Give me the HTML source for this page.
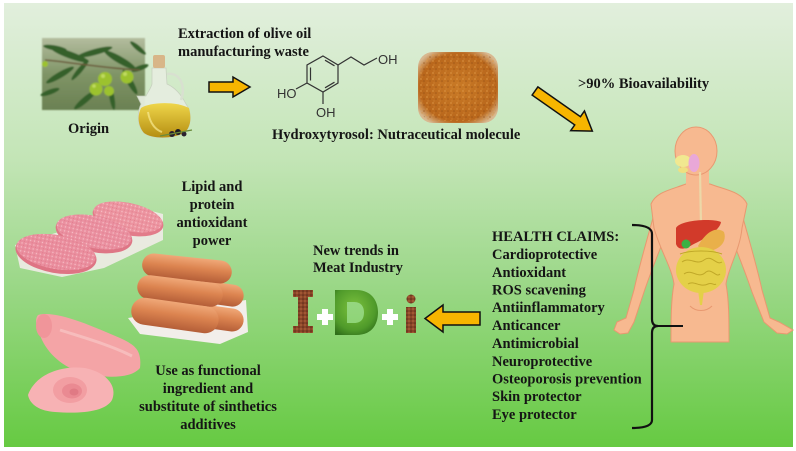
<!DOCTYPE html>
<html>
<head>
<meta charset="utf-8">
<style>
  html,body{margin:0;padding:0;background:#fff;}
  svg{display:block;}
  .t{font-family:"Liberation Serif",serif;font-weight:bold;font-size:14.5px;fill:#151515;}
  .m{font-family:"Liberation Sans",sans-serif;font-size:13px;fill:#333;}
</style>
</head>
<body>
<svg width="796" height="451" viewBox="0 0 796 451" xmlns="http://www.w3.org/2000/svg">
  <defs>
    <linearGradient id="bg" x1="0" y1="0" x2="0" y2="1">
      <stop offset="0" stop-color="#e2efdd"/>
      <stop offset="0.35" stop-color="#c3e5b6"/>
      <stop offset="0.62" stop-color="#9dd88a"/>
      <stop offset="1" stop-color="#66ca42"/>
    </linearGradient>
    <linearGradient id="olbg" x1="0" y1="0" x2="0" y2="1">
      <stop offset="0" stop-color="#b3bc9e"/>
      <stop offset="0.5" stop-color="#7f9466"/>
      <stop offset="1" stop-color="#6a8052"/>
    </linearGradient>
    <radialGradient id="pow" cx="0.5" cy="0.5" r="0.6">
      <stop offset="0" stop-color="#c97a26"/>
      <stop offset="0.8" stop-color="#b9671c"/>
      <stop offset="1" stop-color="#d8b890"/>
    </radialGradient>
    <pattern id="grain" width="6" height="6" patternUnits="userSpaceOnUse">
      <circle cx="1" cy="1" r="0.9" fill="#e09a48" opacity="0.7"/>
      <circle cx="4" cy="3" r="0.8" fill="#8c4a12" opacity="0.6"/>
      <circle cx="2" cy="5" r="0.7" fill="#d68a3a" opacity="0.6"/>
    </pattern>
    <linearGradient id="saus" x1="0" y1="0" x2="0" y2="1">
      <stop offset="0" stop-color="#f0a878"/>
      <stop offset="0.45" stop-color="#dc8450"/>
      <stop offset="1" stop-color="#b45e38"/>
    </linearGradient>
    <pattern id="meat" width="4" height="4" patternUnits="userSpaceOnUse">
      <circle cx="1" cy="1" r="0.7" fill="#fbd2d6" opacity="0.7"/>
      <circle cx="3" cy="3" r="0.6" fill="#d46a78" opacity="0.5"/>
    </pattern>
    <radialGradient id="dg" cx="0.45" cy="0.4" r="0.7">
      <stop offset="0" stop-color="#7cc23e"/>
      <stop offset="0.7" stop-color="#4f9a2a"/>
      <stop offset="1" stop-color="#2f6e1a"/>
    </radialGradient>
    <pattern id="brown" width="4" height="4" patternUnits="userSpaceOnUse">
      <rect width="4" height="4" fill="#8a4528"/>
      <circle cx="1" cy="1" r="0.9" fill="#b0643a"/>
      <circle cx="3" cy="3" r="0.8" fill="#5a2a18"/>
    </pattern>
    <linearGradient id="oil" x1="0" y1="0" x2="0" y2="1">
      <stop offset="0" stop-color="#efd64a"/>
      <stop offset="1" stop-color="#b58e12"/>
    </linearGradient>
    <filter id="soft"><feGaussianBlur stdDeviation="0.7"/></filter>
  </defs>

  <!-- background -->
  <rect x="4" y="3" width="789" height="444" fill="url(#bg)"/>

  <!-- olive photo -->
  <g filter="url(#soft)">
    <rect x="42" y="38" width="103" height="72" fill="url(#olbg)"/>
    <g fill="#34602a">
      <ellipse cx="70" cy="55" rx="20" ry="3.5" transform="rotate(20 70 55)"/>
      <ellipse cx="95" cy="52" rx="18" ry="3" transform="rotate(-15 95 52)"/>
      <ellipse cx="120" cy="60" rx="18" ry="3.5" transform="rotate(30 120 60)"/>
      <ellipse cx="60" cy="75" rx="16" ry="3" transform="rotate(-30 60 75)"/>
      <ellipse cx="130" cy="82" rx="14" ry="3" transform="rotate(60 130 82)"/>
      <ellipse cx="85" cy="100" rx="14" ry="3" transform="rotate(-40 85 100)"/>
      <ellipse cx="112" cy="98" rx="12" ry="2.5" transform="rotate(80 112 98)"/>
      <ellipse cx="138" cy="48" rx="10" ry="2.5" transform="rotate(40 138 48)"/>
      <ellipse cx="55" cy="48" rx="12" ry="2.5" transform="rotate(10 55 48)"/>
      <ellipse cx="80" cy="70" rx="13" ry="2.5" transform="rotate(-50 80 70)"/>
      <ellipse cx="140" cy="68" rx="9" ry="2.5" transform="rotate(-20 140 68)"/>
      <ellipse cx="50" cy="92" rx="10" ry="2.5" transform="rotate(-20 50 92)"/>
    </g>
    <path d="M45,60 C70,62 100,68 140,70" stroke="#6a5a3a" stroke-width="1.5" fill="none"/>
    <g fill="#9cc22e">
      <circle cx="96" cy="89" r="6.5"/>
      <circle cx="105" cy="79" r="7"/>
      <circle cx="127" cy="77" r="6.5"/>
      <circle cx="109" cy="91" r="5"/>
      <circle cx="45" cy="64" r="3"/>
    </g>
    <g fill="#c8e06a" opacity="0.8">
      <circle cx="103" cy="76" r="2"/>
      <circle cx="125" cy="74" r="2"/>
      <circle cx="94" cy="86" r="1.8"/>
    </g>
  </g>

  <!-- oil jar -->
  <g>
    <path d="M152,68 L166,68 L167,84 C176,88 182,96 186,104 C192,112 192,126 184,133 C172,139 152,139 144,133 C137,126 137,112 141,104 L137,96 L146,96 C149,90 151,88 152,84 Z" fill="#e6eee0" stroke="#c8d0c0" stroke-width="0.8" opacity="0.95"/>
    <path d="M141,108 C150,102 176,101 189,108 C192,120 190,128 184,133 C172,139 152,139 144,133 C138,126 137,116 141,108 Z" fill="url(#oil)"/>
    <path d="M167,74 C180,72 186,86 181,100" stroke="#d8e0d0" stroke-width="2.5" fill="none"/>
    <rect x="153" y="55" width="12" height="13" rx="2" fill="#d8b688"/>
    <path d="M148,112 C150,124 156,130 162,132" stroke="#f8ea90" stroke-width="2" fill="none" opacity="0.7"/>
    <circle cx="172" cy="134" r="3" fill="#2a2030"/>
    <circle cx="178" cy="132" r="3" fill="#1e1a24"/>
    <circle cx="184" cy="134" r="2.5" fill="#2a2030"/>
    <path d="M160,136 L192,130" stroke="#6a8a3a" stroke-width="1.2"/>
  </g>

  <!-- texts top -->
  <text class="t" x="178" y="38">Extraction of olive oil</text>
  <text class="t" x="178" y="56">manufacturing waste</text>
  <text class="t" x="68" y="133">Origin</text>

  <!-- right arrow -->
  <path d="M209,82 L233,82 L233,77 L250,87 L233,97 L233,92 L209,92 Z" fill="#f7b500" stroke="#111" stroke-width="1.5" stroke-linejoin="miter"/>

  <!-- molecule -->
  <g stroke="#333" stroke-width="1.2" fill="none">
    <polygon points="323,56 338,65 338,83 323,92 307,83 307,65"/>
    <line x1="310.5" y1="67.5" x2="310.5" y2="80.5"/>
    <line x1="325" y1="60.2" x2="334.5" y2="65.8"/>
    <line x1="334.5" y1="82.2" x2="325" y2="87.8"/>
    <polyline points="338,65 351,57 364,65 377,58"/>
    <line x1="307" y1="83" x2="296" y2="89"/>
    <line x1="323" y1="92" x2="323" y2="104"/>
  </g>
  <text class="m" x="378" y="64">OH</text>
  <text class="m" x="277" y="98">HO</text>
  <text class="m" x="316" y="117">OH</text>

  <!-- powder -->
  <rect x="418" y="52" width="80" height="71" rx="15" fill="url(#pow)"/>
  <rect x="420" y="54" width="76" height="67" rx="14" fill="url(#grain)"/>

  <text class="t" x="272" y="139">Hydroxytyrosol: Nutraceutical molecule</text>
  <text class="t" x="578" y="88">&gt;90% Bioavailability</text>

  <!-- diagonal arrow -->
  <g transform="translate(535,91) rotate(35)">
    <path d="M0,-5 L52,-5 L52,-12 L70,0 L52,12 L52,5 L0,5 Z" fill="#f7b500" stroke="#111" stroke-width="1.5"/>
  </g>

  <!-- human -->
  <g stroke="#e89870" stroke-width="1" fill="#f7b990">
    <path d="M657,203 C650,230 640,262 634,290 L626,318 L617,322 L614,330 L620,334 L628,333 L634,322 L644,292 C652,268 662,245 668,228 Z"/>
    <path d="M739,203 C746,230 756,262 762,290 L770,318 L779,322 L793,330 L787,334 L777,333 L764,322 L752,292 C744,268 734,245 728,228 Z"/>
    <path d="M686,184 C670,190 656,192 651,204 L654,228 C660,250 672,268 674,284 C671,300 671,320 671,342 L729,342 C729,320 729,300 726,284 C728,268 740,250 742,228 L747,204 C742,192 726,190 710,184 Z"/>
    <rect x="686" y="166" width="23" height="22" stroke="none"/>
    <ellipse cx="696" cy="151" rx="21" ry="24"/>
  </g>
  <path d="M690,306 C696,312 706,312 712,306" stroke="#e89870" fill="none" stroke-width="1"/>
  <ellipse cx="683" cy="161" rx="8" ry="6" fill="#f1e890"/>
  <ellipse cx="683" cy="170" rx="5" ry="3" fill="#efe080"/>
  <ellipse cx="694" cy="163" rx="5.5" ry="9" fill="#e9a8d8"/>
  <line x1="700" y1="172" x2="701" y2="225" stroke="#ecd8a8" stroke-width="2.2"/>
  <path d="M676,228 C680,220 712,218 721,222 C720,230 706,238 692,245 C684,250 678,250 676,244 Z" fill="#d23a2a"/>
  <path d="M698,246 C706,232 716,226 724,232 C728,244 716,252 702,252 Z" fill="#e9b04a"/>
  <circle cx="686" cy="244" r="4.5" fill="#3cb043"/>
  <ellipse cx="701" cy="270" rx="25" ry="23" fill="#e4d048"/>
  <g stroke="#c0a828" stroke-width="1" fill="none">
    <path d="M682,262 C690,256 696,266 704,260 C712,254 716,266 722,262"/>
    <path d="M684,274 C692,268 698,280 706,272 C712,268 716,278 720,274"/>
    <path d="M688,284 C694,280 700,288 708,284 C712,282 714,286 716,284"/>
    <path d="M680,254 C690,250 712,250 722,254"/>
  </g>
  <path d="M698,290 L704,290 L702,305 L700,305 Z" fill="#e4d048"/>

  <!-- brace -->
  <path d="M632,225 Q652,225 652,234 L652,319 Q652,326 658,326 Q652,326 652,333 L652,420 Q652,428 632,428" stroke="#111" stroke-width="2.2" fill="none"/>
  <line x1="656" y1="326" x2="683" y2="326" stroke="#111" stroke-width="2"/>

  <!-- health claims -->
  <g class="t">
    <text x="492" y="241">HEALTH CLAIMS:</text>
    <text x="492" y="259">Cardioprotective</text>
    <text x="492" y="277">Antioxidant</text>
    <text x="492" y="294.5">ROS scavening</text>
    <text x="492" y="312">Antiinflammatory</text>
    <text x="492" y="330">Anticancer</text>
    <text x="492" y="348">Antimicrobial</text>
    <text x="492" y="366">Neuroprotective</text>
    <text x="492" y="383.5">Osteoporosis prevention</text>
    <text x="492" y="401">Skin protector</text>
    <text x="492" y="419">Eye protector</text>
  </g>

  <!-- left arrow -->
  <path d="M480,312 L443,312 L443,305 L425,318.5 L443,332 L443,325 L480,325 Z" fill="#f7b500" stroke="#111" stroke-width="1.5"/>

  <!-- I+D+i -->
  <text class="t" x="313" y="255">New trends in</text>
  <text class="t" x="313" y="272">Meat Industry</text>
  <g fill="url(#brown)">
    <rect x="293" y="290" width="20" height="7"/>
    <rect x="298" y="290" width="10" height="43"/>
    <rect x="293" y="326" width="20" height="7"/>
    <circle cx="411" cy="299" r="4.5"/>
    <rect x="406" y="307" width="10" height="26"/>
  </g>
  <path fill-rule="evenodd" fill="url(#dg)" d="M335,290 L356,290 C374,290 378,304 378,312 C378,322 374,335 356,335 L335,335 Z M347,302 L354,302 C362,302 364,308 364,312 C364,318 362,323 354,323 L347,323 Z"/>
  <g fill="#ffffff">
    <rect x="317" y="314" width="16" height="6"/>
    <rect x="322" y="309" width="6" height="16"/>
    <rect x="382" y="314" width="16" height="6"/>
    <rect x="387" y="309" width="6" height="16"/>
  </g>

  <!-- patties -->
  <path d="M15,245 L20,268 L62,277 L104,268 L163,240 L163,214 L140,208 Z" fill="#f4ecec" opacity="0.85"/>
  <g>
    <ellipse cx="128" cy="219" rx="36" ry="16" transform="rotate(12 128 219)" fill="#e27c8a"/>
    <ellipse cx="128" cy="217" rx="35" ry="14" transform="rotate(12 128 217)" fill="#ec94a0"/>
    <ellipse cx="128" cy="217" rx="35" ry="14" transform="rotate(12 128 217)" fill="url(#meat)"/>
    <ellipse cx="94" cy="234" rx="39" ry="18" transform="rotate(12 94 234)" fill="#de7686"/>
    <ellipse cx="94" cy="232" rx="38" ry="16" transform="rotate(12 94 232)" fill="#ea90a0"/>
    <ellipse cx="94" cy="232" rx="38" ry="16" transform="rotate(12 94 232)" fill="url(#meat)"/>
    <ellipse cx="56" cy="254" rx="41" ry="19" transform="rotate(10 56 254)" fill="#de7484"/>
    <ellipse cx="56" cy="252" rx="40" ry="17" transform="rotate(10 56 252)" fill="#ea8e9e"/>
    <ellipse cx="56" cy="252" rx="40" ry="17" transform="rotate(10 56 252)" fill="url(#meat)"/>
  </g>

  <!-- sausages -->
  <path d="M128,318 L140,334 L220,344 L248,332 L246,300 Z" fill="#f2eeea"/>
  <g>
    <rect x="160" y="280" width="84" height="22" rx="11" fill="url(#saus)" transform="rotate(8 200 291)"/>
    <rect x="156" y="304" width="88" height="23" rx="11.5" fill="url(#saus)" transform="rotate(8 200 315)"/>
    <rect x="142" y="257" width="90" height="23" rx="11.5" fill="url(#saus)" transform="rotate(6 187 268)"/>
    <rect x="137" y="279" width="86" height="24" rx="12" fill="url(#saus)" transform="rotate(7 180 291)"/>
    <rect x="131" y="302" width="88" height="27" rx="13.5" fill="url(#saus)" transform="rotate(8 175 315)"/>
  </g>

  <!-- ham -->
  <g>
    <path d="M38,315 C55,310 90,325 120,338 C135,345 142,350 140,368 C130,380 100,378 80,372 C60,366 45,350 40,335 C37,328 34,320 38,315 Z" fill="#f4a4a6"/>
    <ellipse cx="44" cy="326" rx="8" ry="12" fill="#f0959a"/>
    <path d="M60,330 C85,338 110,345 132,356" stroke="#f8c2c2" stroke-width="3" fill="none" opacity="0.8"/>
    <path d="M28,395 C35,375 60,365 85,368 C105,372 118,385 112,400 C105,412 80,414 55,412 C40,411 30,405 28,395 Z" fill="#f7b2b4"/>
    <ellipse cx="70" cy="390" rx="17" ry="13" fill="#f29ea2"/>
    <ellipse cx="72" cy="391" rx="10" ry="7.5" fill="#ea8a92"/>
    <ellipse cx="74" cy="392" rx="4.5" ry="3.5" fill="#e07a84"/>
  </g>

  <!-- meat texts -->
  <g class="t" text-anchor="middle">
    <text x="212" y="191">Lipid and</text>
    <text x="212" y="209">protein</text>
    <text x="212" y="227">antioxidant</text>
    <text x="212" y="245">power</text>
    <text x="208" y="375">Use as functional</text>
    <text x="208" y="393">ingredient and</text>
    <text x="208" y="411">substitute of sinthetics</text>
    <text x="208" y="429">additives</text>
  </g>
</svg>
</body>
</html>
